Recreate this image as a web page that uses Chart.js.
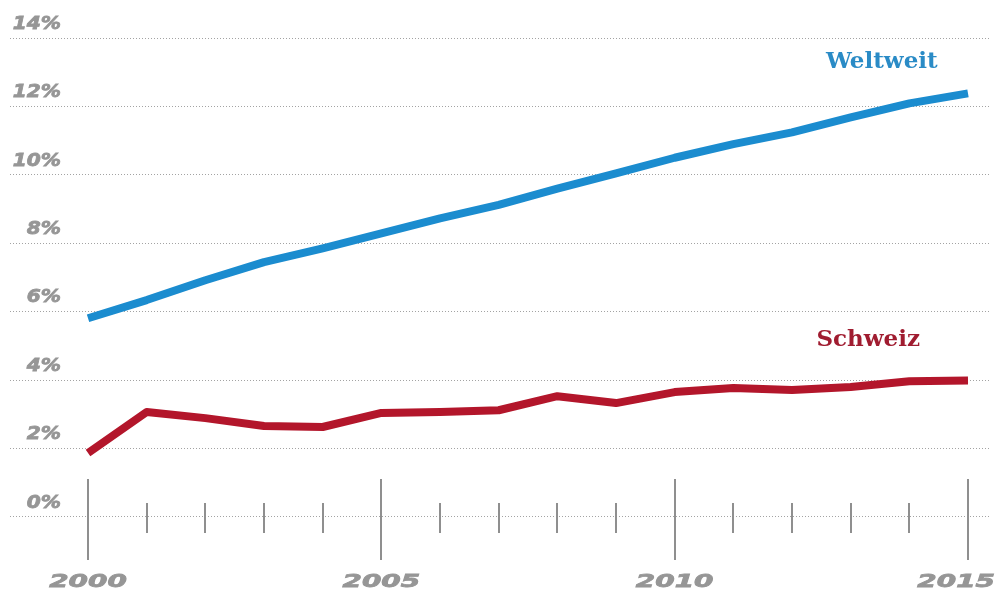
<html><head><meta charset="utf-8">
<script src="https://cdn.jsdelivr.net/npm/chart.js@4.4.0/dist/chart.umd.min.js"></script>
<style>
  body { margin: 0; background: #fff; }
  #wrap { width: 998px; height: 591px; }
</style>
</head>
<body>
<div id="wrap"><canvas id="myChart" width="998" height="591"></canvas></div>
<script>
// values
var years = [2000, 2001, 2002, 2003, 2004, 2005, 2006, 2007, 2008, 2009, 2010, 2011, 2012, 2013, 2014, 2015];
var weltweit = [5.81, 6.34, 6.92, 7.45, 7.85, 8.29, 8.73, 9.12, 9.6, 10.04, 10.5, 10.9, 11.24, 11.68, 12.09, 12.38];
var schweiz = [1.87, 3.07, 2.89, 2.66, 2.63, 3.04, 3.07, 3.12, 3.53, 3.33, 3.65, 3.77, 3.71, 3.8, 3.97, 3.99];
var seriesNames = ['Weltweit', 'Schweiz'];
var yTicks = [0, 2, 4, 6, 8, 10, 12, 14];
var xLabels = [2000, 2005, 2010, 2015];

var blue = '#1b8ccf';
var red = '#b3162b';
var labelGrey = '#969696';

function pts(vals) {
  return years.map(function (y, i) { return {x: y, y: vals[i]}; });
}

// heavy grey axis text: fill plus a thin stroke to thicken the glyphs
function heavyText(ctx, txt) {
  ctx.fillText(txt, 0, 0);
  ctx.strokeText(txt, 0, 0);
}

// axis ticks, labels and series names drawn with the chart's own scales
var decor = {
  id: 'decor',
  beforeDatasetsDraw: function (chart) {
    var ctx = chart.ctx, xs = chart.scales.x, ys = chart.scales.y;
    var zero = ys.getPixelForValue(0);
    ctx.save();
    ctx.strokeStyle = '#8f8f8f';
    ctx.lineWidth = 2;
    years.forEach(function (yr) {
      var px = Math.round(xs.getPixelForValue(yr));
      var major = xLabels.indexOf(yr) >= 0;
      ctx.beginPath();
      if (major) { ctx.moveTo(px, zero - 38); ctx.lineTo(px, zero + 43); }
      else { ctx.moveTo(px, zero - 14); ctx.lineTo(px, zero + 16); }
      ctx.stroke();
    });
    ctx.restore();
  },
  afterDraw: function (chart) {
    var ctx = chart.ctx, xs = chart.scales.x, ys = chart.scales.y;
    ctx.save();
    ctx.fillStyle = labelGrey;
    ctx.strokeStyle = labelGrey;
    ctx.lineWidth = 0.8;
    ctx.textBaseline = 'middle';
    // y labels, right aligned, sitting above their grid line
    ctx.font = 'italic bold 18px "DejaVu Sans"';
    yTicks.forEach(function (v) {
      var py = ys.getPixelForValue(v) - 14;
      ctx.save();
      ctx.translate(61, py);
      ctx.scale(1.12, 1);
      ctx.textAlign = 'right';
      heavyText(ctx, v + '%');
      ctx.restore();
    });
    // x labels, stretched wide
    var stretch = 1.55;
    xLabels.forEach(function (yr) {
      var w = ctx.measureText(String(yr)).width * stretch;
      var cx = xs.getPixelForValue(yr);
      cx = Math.min(cx, chart.width - 3 - w / 2);
      ctx.save();
      ctx.translate(cx, 582);
      ctx.scale(stretch, 1);
      ctx.textAlign = 'center';
      heavyText(ctx, String(yr));
      ctx.restore();
    });
    // series names
    ctx.font = 'bold 23px "DejaVu Serif"';
    ctx.textAlign = 'center';
    ctx.fillStyle = '#2a8bc6';
    ctx.fillText(seriesNames[0], xs.getPixelForValue(2013.53), ys.getPixelForValue(13.3));
    ctx.fillStyle = '#a01c30';
    ctx.fillText(seriesNames[1], xs.getPixelForValue(2013.3), ys.getPixelForValue(5.18));
    ctx.restore();
  }
};

var ctx = document.getElementById('myChart');
var myChart = new Chart(ctx, {
  type: 'line',
  data: {
    datasets: [{
      label: seriesNames[0],
      data: pts(weltweit),
      borderColor: blue,
      borderWidth: 8,
      pointRadius: 0,
      borderCapStyle: 'butt',
      borderJoinStyle: 'round',
      tension: 0
    }, {
      label: seriesNames[1],
      data: pts(schweiz),
      borderColor: red,
      borderWidth: 8,
      pointRadius: 0,
      borderCapStyle: 'butt',
      borderJoinStyle: 'round',
      tension: 0
    }]
  },
  plugins: [decor],
  options: {
    responsive: false,
    animation: false,
    layout: { padding: { left: 10, right: 8, top: 38, bottom: 31 } },
    plugins: { legend: { display: false }, tooltip: { enabled: false } },
    scales: {
      x: {
        type: 'linear',
        min: 1998.67,
        max: 2015.375,
        display: false
      },
      y: {
        min: -1.257,
        max: 14,
        afterBuildTicks: function (axis) {
          axis.ticks = yTicks.map(function (v) { return {value: v}; });
        },
        ticks: { display: false },
        grid: { color: '#a3a3a3', lineWidth: 1, drawTicks: false },
        border: { display: false, dash: [1, 2] }
      }
    }
  }
});
</script>
</body></html>
